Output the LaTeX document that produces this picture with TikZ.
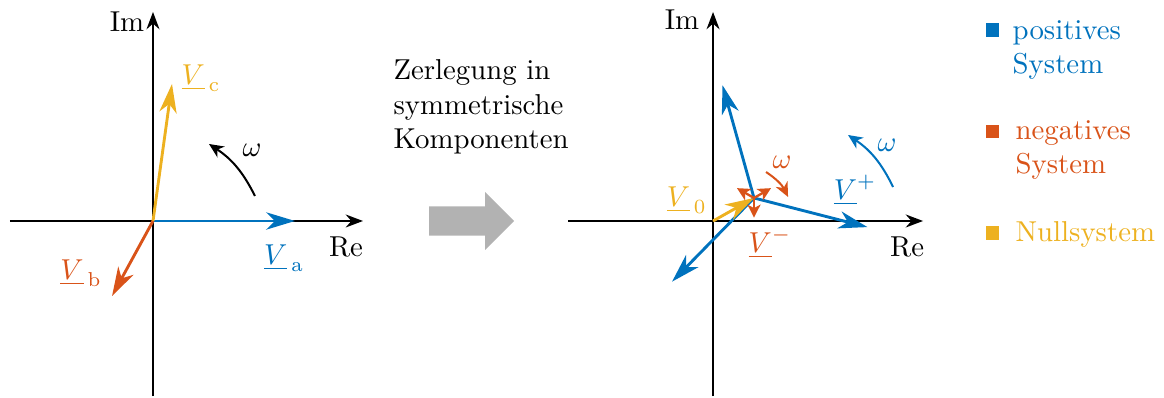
\documentclass[tikz,border=0pt]{standalone}
\usepackage{amsmath}
\usetikzlibrary{arrows.meta,calc}
\definecolor{mblue}{RGB}{0,114,189}
\definecolor{morange}{RGB}{217,83,25}
\definecolor{myellow}{RGB}{237,177,32}

\begin{document}
\begin{tikzpicture}[
  axis/.style={line width=0.7pt, -{Stealth[length=6pt,width=4.5pt]}},
  vec/.style={line width=1pt, -{Stealth[length=10pt,width=6pt,inset=3pt]}},
  smallvec/.style={line width=0.8pt, -{Stealth[length=4.5pt,width=4.5pt,inset=1.2pt]}},
  rot/.style={line width=0.7pt, -{Stealth[length=5pt,width=4.5pt,inset=1.5pt]}},
  lbl/.style={inner sep=0pt},
  key/.style={minimum size=1.6mm, inner sep=0pt}]
\useasboundingbox (-1.868,-2.161) rectangle (12.344,2.698);

%% Left: unbalanced phasors
\coordinate (O)  at (0,0);
\coordinate (xl) at (-1.746,0); \coordinate (xr) at (2.564,0);
\coordinate (yb) at (0,-2.137); \coordinate (yt) at (0,2.552);
\draw[axis] (xl) -- (xr);
\draw[axis] (yb) -- (yt);
\node (im) at (-0.317,2.43)  {Im};
\node (re) at (2.357,-0.317) {Re};
\coordinate (va) at (1.734,0);
\coordinate (vc) at (0.232,1.673);
\coordinate (vb) at (-0.5,-0.916);
\draw[vec, mblue]   (O) -- (va);
\draw[vec, myellow] (O) -- (vc);
\draw[vec, morange] (O) -- (vb);
\node[mblue]   (la) at (1.6,-0.452)   {$\underline{V}_{\,\mathrm{a}}$};
\node[myellow] (lc) at (0.587,1.746)  {$\underline{V}_{\,\mathrm{c}}$};
\node[morange] (lb) at (-0.878,-0.635){$\underline{V}_{\,\mathrm{b}}$};
\coordinate (ws) at (1.245,0.305); \coordinate (we) at (0.684,0.940);
\draw[rot] (ws) to[bend right=15] (we);
\node (om) at (1.209,0.867) {$\omega$};

%% Middle: text and arrow
\node[lbl, align=left, anchor=west] (zer) at (2.93,1.39)
  {Zerlegung in\\symmetrische\\Komponenten};
\fill[gray!60] (3.370,0.178) -- (4.054,0.178) -- (4.054,0.354) -- (4.408,0)
  -- (4.054,-0.354) -- (4.054,-0.178) -- (3.370,-0.178) -- cycle;

%% Right: symmetrical components
\begin{scope}[xshift=6.838cm]
\coordinate (O2)  at (0,0);
\coordinate (xl2) at (-1.770,0); \coordinate (xr2) at (2.564,0);
\coordinate (yb2) at (0,-2.137); \coordinate (yt2) at (0,2.552);
\draw[axis] (xl2) -- (xr2);
\draw[axis] (yb2) -- (yt2);
\node (im2) at (-0.379,2.454) {Im};
\node (re2) at (2.369,-0.317) {Re};
\coordinate (P) at (0.50,0.281);
\coordinate (vp1) at ($(P)+(-14.4:1.43)$);
\coordinate (vp2) at ($(P)+(105.6:1.43)$);
\coordinate (vp3) at ($(P)+(225.6:1.43)$);
\draw[vec, mblue] (P) -- (vp1);
\draw[vec, mblue] (P) -- (vp2);
\draw[vec, mblue] (P) -- (vp3);
\draw[vec, myellow] (O2) -- (P);
\coordinate (vm1) at ($(P)+(30:0.24)$);
\coordinate (vm2) at ($(P)+(150:0.24)$);
\coordinate (vm3) at ($(P)+(270:0.24)$);
\draw[smallvec, morange] (P) -- (vm1);
\draw[smallvec, morange] (P) -- (vm2);
\draw[smallvec, morange] (P) -- (vm3);
\node[myellow] (l0) at (-0.32,0.256)  {$\underline{V}_{\,0}$};
\node[mblue]   (lp) at (1.734,0.379)  {$\underline{V}^+$};
\node[morange] (lm) at (0.696,-0.269) {$\underline{V}^-$};
\coordinate (wns) at (0.647,0.598); \coordinate (wne) at (0.916,0.293);
\draw[rot, morange] (wns) to[bend left=15] (wne);
\node[morange] (omn) at (0.843,0.72) {$\omega$};
\coordinate (wps) at (2.198,0.415); \coordinate (wpe) at (1.648,1.05);
\draw[rot, mblue] (wps) to[bend right=15] (wpe);
\node[mblue] (omp) at (2.125,0.928) {$\omega$};
\end{scope}

%% Legend
\node[key, fill=mblue]   (kp) at (10.25,2.332) {};
\node[key, fill=morange] (kn) at (10.25,1.09)  {};
\node[key, fill=myellow] (k0) at (10.25,-0.147){};
\node[lbl, mblue, align=left, anchor=west]   (tp) at (10.49,2.09)
  {positives\\System};
\node[lbl, morange, align=left, anchor=west] (tn) at (10.525,0.867)
  {negatives\\System};
\node[lbl, myellow, anchor=base west] (t0) at (10.525,-0.253) {Nullsystem};
\end{tikzpicture}
\end{document}
